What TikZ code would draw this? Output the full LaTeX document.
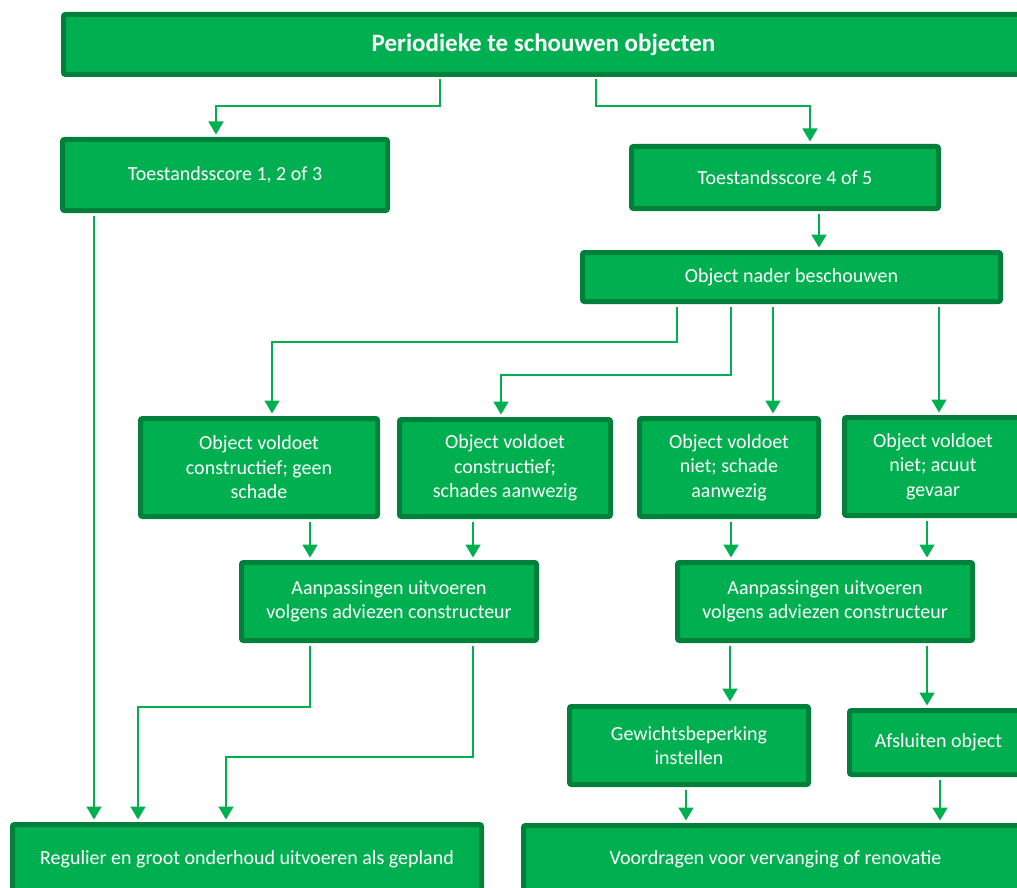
\documentclass[tikz,border=0pt]{standalone}
\usepackage{fontspec}
\setmainfont{Carlito}
\usepackage{tikz}
\usetikzlibrary{arrows.meta, positioning}
\definecolor{vakgroen}{RGB}{0,176,80}
\definecolor{randgroen}{RGB}{0,128,58}
\tikzstyle{arrow} = [line width=1.6pt, draw=vakgroen, shorten <=2.5pt, shorten >=2.5pt,
-{Triangle[width=15pt,length=13pt]}
]
\tikzstyle{vak} = [
rectangle, rounded corners=2pt, draw=randgroen, line width=5pt, fill=vakgroen,
text=white, align=center, inner sep=0pt, font=\fontsize{20}{24.5}\selectfont
]
\tikzstyle{vak_titel} = [
vak, font=\fontsize{25}{30}\selectfont\bfseries
]

\begin{document}
\begin{tikzpicture}[x=1pt, y=-1pt]
	\useasboundingbox (0,0) rectangle (1017,888);
	\clip (0,0) rectangle (1017,888);

	% Vakken
	\node (Titel) [vak_titel, minimum width=960pt, minimum height=60pt] at (543.5,44.5) {Periodieke te schouwen objecten};
	\node (S_123) [vak, minimum width=325pt, minimum height=71pt] at (225,175) {Toestandsscore 1, 2 of 3};
	\node (S_45) [vak, minimum width=307pt, minimum height=62pt] at (785,177.5) {Toestandsscore 4 of 5};
	\node (Nader) [vak, minimum width=418pt, minimum height=49pt] at (791.5,277) {Object nader beschouwen};
	\node (V_geen) [vak, minimum width=237pt, minimum height=98pt] at (259,467.5) {Object voldoet\\constructief; geen\\schade};
	\node (V_schades) [vak, minimum width=211pt, minimum height=97pt] at (505,468) {Object voldoet\\constructief;\\schades aanwezig};
	\node (N_schade) [vak, minimum width=179pt, minimum height=98pt] at (729,467.5) {Object voldoet\\niet; schade\\aanwezig};
	\node (N_gevaar) [vak, minimum width=177pt, minimum height=98pt] at (933,466.5) {Object voldoet\\niet; acuut\\gevaar};
	\node (Aanp_L) [vak, minimum width=295pt, minimum height=78pt] at (389,601.5) {Aanpassingen uitvoeren\\volgens adviezen constructeur};
	\node (Aanp_R) [vak, minimum width=295pt, minimum height=78pt] at (825,601.5) {Aanpassingen uitvoeren\\volgens adviezen constructeur};
	\node (Gewicht) [vak, minimum width=239pt, minimum height=78pt] at (689,745.5) {Gewichtsbeperking\\instellen};
	\node (Afsluiten) [vak, minimum width=178pt, minimum height=64pt] at (938.5,742.5) {Afsluiten object};

	% Eindvakken
	\node (Regulier) [vak, minimum width=469pt, minimum height=69pt] at (247,859) {Regulier en groot onderhoud uitvoeren als gepland};
	\node (Voordragen) [vak, minimum width=504pt, minimum height=68pt] at (775.5,859.5) {Voordragen voor vervanging of renovatie};

	% Verbindingen
	\draw [arrow] (440,0 |- Titel.south) |- (216,106) -- (216,0 |- S_123.north);
	\draw [arrow] (596,0 |- Titel.south) |- (810,106) -- (810,0 |- S_45.north);
	\draw [arrow] (94,0 |- S_123.south) -- (94,0 |- Regulier.north);
	\draw [arrow] (819,0 |- S_45.south) -- (819,0 |- Nader.north);
	\draw [arrow] (677,0 |- Nader.south) |- (272,342) -- (272,0 |- V_geen.north);
	\draw [arrow] (731,0 |- Nader.south) |- (501,375) -- (501,0 |- V_schades.north);
	\draw [arrow] (773,0 |- Nader.south) -- (773,0 |- N_schade.north);
	\draw [arrow] (939,0 |- Nader.south) -- (939,0 |- N_gevaar.north);
	\draw [arrow] (310,0 |- V_geen.south) -- (310,0 |- Aanp_L.north);
	\draw [arrow] (473,0 |- V_schades.south) -- (473,0 |- Aanp_L.north);
	\draw [arrow] (731,0 |- N_schade.south) -- (731,0 |- Aanp_R.north);
	\draw [arrow] (927,0 |- N_gevaar.south) -- (927,0 |- Aanp_R.north);

	% Laatste verbindingen
	\draw [arrow] (310,0 |- Aanp_L.south) |- (138,707) -- (138,0 |- Regulier.north);
	\draw [arrow] (473,0 |- Aanp_L.south) |- (226,757) -- (226,0 |- Regulier.north);
	\draw [arrow] (730,0 |- Aanp_R.south) -- (730,0 |- Gewicht.north);
	\draw [arrow] (927,0 |- Aanp_R.south) -- (927,0 |- Afsluiten.north);
	\draw [arrow] (686,0 |- Gewicht.south) -- (686,0 |- Voordragen.north);
	\draw [arrow] (940,0 |- Afsluiten.south) -- (940,0 |- Voordragen.north);

\end{tikzpicture}
\end{document}
